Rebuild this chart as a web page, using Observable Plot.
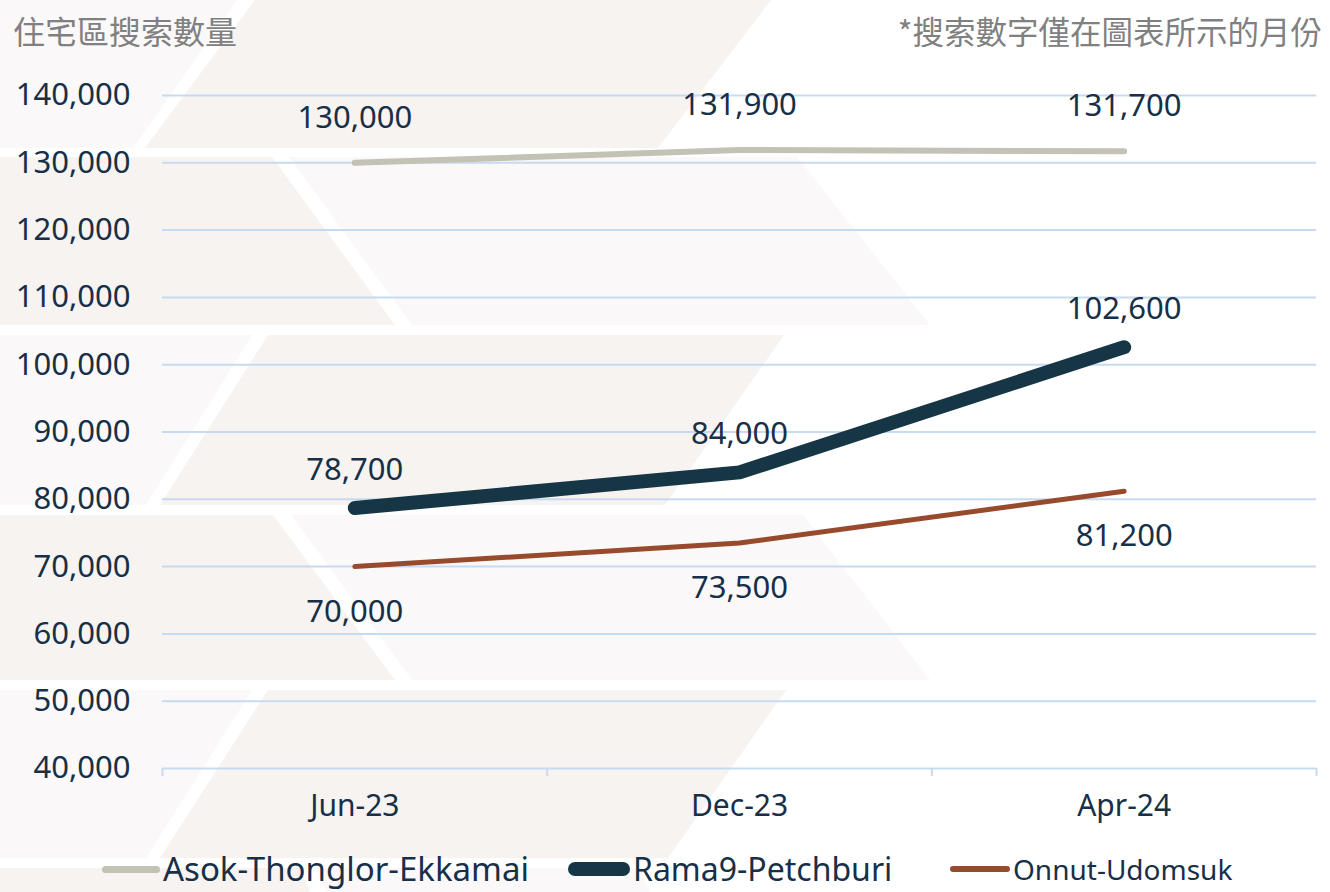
<!DOCTYPE html>
<html><head><meta charset="utf-8">
<script src="https://cdn.jsdelivr.net/npm/d3@7"></script>
<script src="https://cdn.jsdelivr.net/npm/@observablehq/plot@0.6"></script>
<style>
body{margin:0;background:#fff;}
#wrap{position:relative;width:1330px;height:892px;overflow:hidden;font-family:"Noto Sans","Open Sans",sans-serif;color:#172f47;}
#bg{position:absolute;left:0;top:0;}
#chart{position:absolute;left:0;top:0;}
#title{position:absolute;left:13px;top:11px;font-family:"Noto Sans CJK TC","Noto Sans",sans-serif;font-size:32px;line-height:38px;color:#808080;}
#note{position:absolute;right:8px;top:11px;font-family:"Noto Sans CJK TC","Noto Sans",sans-serif;font-size:31.5px;line-height:38px;color:#808080;}
.leg{position:absolute;display:flex;align-items:center;white-space:nowrap;}
.leg span.tx{line-height:34px;}
.sw{border-radius:10px;margin-right:3px;}
</style></head>
<body><div id="wrap">
<svg id="bg" width="1330" height="892"></svg>
<div id="chart"></div>
<div id="title"></div>
<div id="note"></div>
</div>
<script>
// ---- data ----
const categories = ["Jun-23", "Dec-23", "Apr-24"];
const seriesNames = ["Asok-Thonglor-Ekkamai", "Rama9-Petchburi", "Onnut-Udomsuk"];
const asokValues = [130000, 131900, 131700];
const rama9Values = [78700, 84000, 102600];
const onnutValues = [70000, 73500, 81200];
const yTicks = [40000, 50000, 60000, 70000, 80000, 90000, 100000, 110000, 120000, 130000, 140000];
const titleText = "住宅區搜索數量";
const noteText = "*搜索數字僅在圖表所示的月份";

// ---- styles ----
const seriesColors = ["#c4c2b4", "#163646", "#974a2c"];
const seriesWidths = [6, 14, 5];
const labelDy = [-45, -38, 45];
const ink = "#172f47";
const gridColor = "#c6dbf1";

const allValues = [asokValues, rama9Values, onnutValues];
const rows = seriesNames.flatMap((s, k) => allValues[k].map((v, i) => ({series: s, k, i, value: v})));
const boundaries = d3.range(categories.length + 1).map(i => i - 0.5);

// ---- decorative background ----
const bgShapes = [
  ["#faf8f9", "0,0 237,0 133,148 0,148"],
  ["#f6f3f0", "255,0 771,0 658,148 145,148"],
  ["#f6f3f0", "0,157 272,157 395,325 0,325"],
  ["#faf8f9", "289,157 797,157 930,325 412,325"],
  ["#faf8f9", "0,335 252,335 146,505 0,505"],
  ["#f6f3f0", "268,335 784,335 665,505 160,505"],
  ["#f6f3f0", "0,515 273,515 395,680 0,680"],
  ["#faf8f9", "291,515 803,515 930,680 412,680"],
  ["#faf8f9", "0,690 252,690 146,858 0,858"],
  ["#f6f3f0", "268,690 786,690 668,858 160,858"],
  ["#f6f3f0", "0,868 300,868 310,892 0,892"],
  ["#faf8f9", "318,868 640,868 650,892 326,892"]
];
const bg = d3.select("#bg");
bgShapes.forEach(([c, p]) => bg.append("polygon").attr("points", p).attr("fill", c));

// ---- chart ----
const chart = Plot.plot({
  width: 1330,
  height: 830,
  marginLeft: 162,
  marginRight: 14,
  marginTop: 95,
  marginBottom: 62,
  style: {background: "transparent", fontFamily: "'Noto Sans','Open Sans',sans-serif", color: ink},
  x: {type: "linear", domain: [-0.5, categories.length - 0.5]},
  y: {domain: [40000, 140000]},
  marks: [
    Plot.gridY(yTicks, {stroke: gridColor, strokeOpacity: 1, strokeWidth: 2}),
    Plot.axisY(yTicks, {tickSize: 0, tickPadding: 32, tickFormat: d3.format(","), fontSize: 31, fill: ink, label: null}),
    Plot.axisX(boundaries, {tickSize: 8, stroke: gridColor, strokeWidth: 2, strokeOpacity: 1, tickFormat: () => "", label: null}),
    Plot.axisX(d3.range(categories.length), {tickSize: 0, tickPadding: 26, tickFormat: i => categories[i], fontSize: 30, fill: ink, label: null}),
    ...seriesNames.map((s, k) => Plot.line(rows.filter(d => d.k === k), {
      x: "i", y: "value", stroke: seriesColors[k], strokeWidth: seriesWidths[k],
      strokeLinecap: "round", strokeLinejoin: "round"
    })),
    ...seriesNames.map((s, k) => Plot.text(rows.filter(d => d.k === k), {
      x: "i", y: "value", text: d => d3.format(",")(d.value), dy: labelDy[k], fontSize: 31, fill: ink
    }))
  ]
});
document.getElementById("chart").appendChild(chart);
document.getElementById("title").textContent = titleText;
document.getElementById("note").textContent = noteText;

// ---- legend ----
const legLeft = [102, 568, 950];
const swWidth = [58, 62, 60];
const swHeight = [7, 14, 6];
const legFont = [33, 32, 28];
const wrap = document.getElementById("wrap");
seriesNames.forEach((s, k) => {
  const item = document.createElement("div");
  item.className = "leg";
  item.style.left = legLeft[k] + "px";
  item.style.top = "852px";
  item.style.height = "34px";
  const sw = document.createElement("span");
  sw.className = "sw";
  sw.style.width = swWidth[k] + "px";
  sw.style.height = swHeight[k] + "px";
  sw.style.background = seriesColors[k];
  const tx = document.createElement("span");
  tx.className = "tx";
  tx.textContent = s;
  tx.style.fontSize = legFont[k] + "px";
  tx.style.color = ink;
  item.appendChild(sw);
  item.appendChild(tx);
  wrap.appendChild(item);
});
</script>
</body></html>
